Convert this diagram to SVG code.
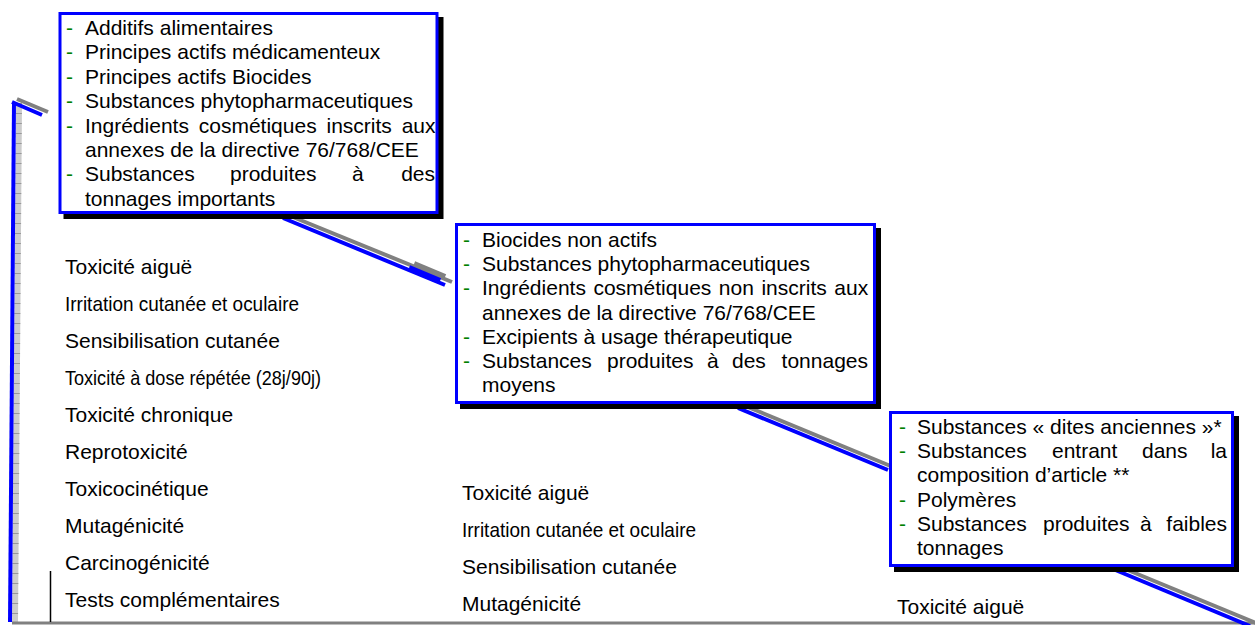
<svg xmlns="http://www.w3.org/2000/svg" width="1255" height="625" viewBox="0 0 1255 625">
<style>
text{font-family:"Liberation Sans",Arial,sans-serif;font-size:21px;fill:#000}
.d{fill:#008000}
.box{fill:#fff;stroke:#0000ff;stroke-width:3}
.sh{fill:#000}
.bl{stroke:#0000ff;stroke-width:4;fill:none}
.gr{stroke:#808080;stroke-width:4;fill:none}
</style>
<rect width="1255" height="625" fill="#fff"/>
<g id="axis">
<polygon points="16,103 22,103 18,622 12,622" fill="#cccccc"/>
<line x1="19" y1="103" x2="15" y2="622" stroke="#999" stroke-width="6" stroke-dasharray="1 9"/>
<line class="bl" x1="14" y1="102" x2="10" y2="622"/>
<line x1="12" y1="623" x2="1255" y2="623" stroke="#808080" stroke-width="3"/>
<line x1="50.5" y1="571" x2="50.5" y2="622" stroke="#000" stroke-width="1.5"/>
</g>
<g id="connectors">
<line class="gr" x1="17" y1="99" x2="48" y2="112"/>
<line class="bl" x1="12" y1="102" x2="42" y2="115"/>
<line class="gr" x1="288" y1="215" x2="452" y2="282"/>
<line class="bl" x1="283" y1="218" x2="445" y2="285"/>
<line stroke="#808080" stroke-width="6" x1="414" y1="264" x2="445" y2="277"/>
<line stroke="#0000ff" stroke-width="6" x1="409" y1="268" x2="440" y2="281"/>
<line class="gr" x1="743" y1="405" x2="893" y2="467"/>
<line class="bl" x1="738" y1="408" x2="888" y2="470"/>
<line class="gr" x1="1118" y1="566" x2="1256" y2="623"/>
<line class="bl" x1="1113" y1="569" x2="1250" y2="626"/>
</g>
<g id="box1">
<rect class="sh" x="63.5" y="17" width="380" height="202"/>
<rect class="box" x="60" y="13.5" width="377" height="199"/>
<text class="d" x="66" y="35">-</text><text x="85" y="35">Additifs alimentaires</text>
<text class="d" x="66" y="59.4">-</text><text x="85" y="59.4">Principes actifs médicamenteux</text>
<text class="d" x="66" y="83.8">-</text><text x="85" y="83.8">Principes actifs Biocides</text>
<text class="d" x="66" y="108.2">-</text><text x="85" y="108.2">Substances phytopharmaceutiques</text>
<text class="d" x="66" y="132.6">-</text><text x="85" y="132.6" word-spacing="4">Ingrédients cosmétiques inscrits aux</text>
<text x="85" y="157">annexes de la directive 76/768/CEE</text>
<text class="d" x="66" y="181.4">-</text><text x="85" y="181.4">Substances</text><text x="230" y="181.4">produites</text><text x="352" y="181.4">à</text><text x="435" y="181.4" text-anchor="end">des</text>
<text x="85" y="205.8">tonnages importants</text>
</g>
<g id="box2">
<rect class="sh" x="460" y="228" width="421" height="181"/>
<rect class="box" x="456.5" y="224.5" width="418" height="178"/>
<text class="d" x="463" y="247">-</text><text x="482" y="247">Biocides non actifs</text>
<text class="d" x="463" y="271.2">-</text><text x="482" y="271.2">Substances phytopharmaceutiques</text>
<text class="d" x="463" y="295.4">-</text><text x="482" y="295.4" word-spacing="1.7">Ingrédients cosmétiques non inscrits aux</text>
<text x="482" y="319.6">annexes de la directive 76/768/CEE</text>
<text class="d" x="463" y="343.8">-</text><text x="482" y="343.8">Excipients à usage thérapeutique</text>
<text class="d" x="463" y="368">-</text><text x="482" y="368">Substances</text><text x="607" y="368">produites</text><text x="707" y="368">à</text><text x="732" y="368">des</text><text x="868" y="368" text-anchor="end">tonnages</text>
<text x="482" y="392.2">moyens</text>
</g>
<g id="box3">
<rect class="sh" x="894" y="416" width="345" height="156"/>
<rect class="box" x="890.5" y="412.5" width="342" height="153"/>
<text class="d" x="899" y="434">-</text><text x="917" y="434">Substances « dites anciennes »*</text>
<text class="d" x="899" y="458.2">-</text><text x="917" y="458.2">Substances</text><text x="1052" y="458.2">entrant</text><text x="1142" y="458.2">dans</text><text x="1227" y="458.2" text-anchor="end">la</text>
<text x="917" y="482.4">composition d’article **</text>
<text class="d" x="899" y="506.6">-</text><text x="917" y="506.6">Polymères</text>
<text class="d" x="899" y="530.8">-</text><text x="917" y="530.8">Substances</text><text x="1043" y="530.8">produites</text><text x="1140" y="530.8">à</text><text x="1227" y="530.8" text-anchor="end">faibles</text>
<text x="917" y="555">tonnages</text>
</g>
<g id="tests-left">
<text x="65" y="274">Toxicité aiguë</text>
<text x="65" y="311" textLength="234" lengthAdjust="spacingAndGlyphs">Irritation cutanée et oculaire</text>
<text x="65" y="348">Sensibilisation cutanée</text>
<text x="65" y="385" textLength="256" lengthAdjust="spacingAndGlyphs">Toxicité à dose répétée (28j/90j)</text>
<text x="65" y="422">Toxicité chronique</text>
<text x="65" y="459">Reprotoxicité</text>
<text x="65" y="496">Toxicocinétique</text>
<text x="65" y="533">Mutagénicité</text>
<text x="65" y="570">Carcinogénicité</text>
<text x="65" y="607">Tests complémentaires</text>
</g>
<g id="tests-middle">
<text x="462" y="500">Toxicité aiguë</text>
<text x="462" y="537" textLength="234" lengthAdjust="spacingAndGlyphs">Irritation cutanée et oculaire</text>
<text x="462" y="574">Sensibilisation cutanée</text>
<text x="462" y="611">Mutagénicité</text>
</g>
<g id="tests-right">
<text x="897" y="614">Toxicité aiguë</text>
</g>
</svg>
